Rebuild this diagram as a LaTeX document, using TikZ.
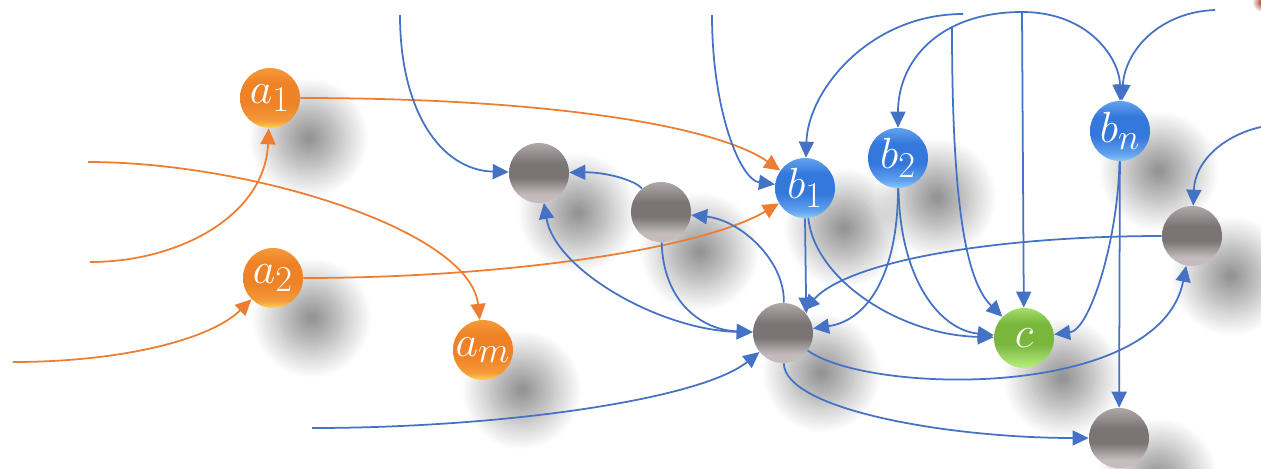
\documentclass[tikz,border=0pt]{standalone}
\usetikzlibrary{arrows.meta,shadows.blur}

\definecolor{lineblue}{HTML}{4472C4}
\definecolor{lineorange}{HTML}{ED7D31}
\definecolor{orgtop}{HTML}{F49A3A}
\definecolor{orgmid}{HTML}{EF8226}
\definecolor{orgbot}{HTML}{FFD54A}
\definecolor{blutop}{HTML}{62A2EE}
\definecolor{blumid}{HTML}{3578DC}
\definecolor{blubot}{HTML}{8CCBF8}
\definecolor{grntop}{HTML}{A6DE6C}
\definecolor{grnmid}{HTML}{78B63C}
\definecolor{grnbot}{HTML}{B8F27C}
\definecolor{grytop}{HTML}{B0A8A8}
\definecolor{grymid}{HTML}{7A7474}
\definecolor{grybot}{HTML}{C4BCBC}
\definecolor{cornerred}{HTML}{A0301A}

\pgfdeclareverticalshading{orangeball}{100bp}{color(0bp)=(orgbot); color(25bp)=(orgbot); color(31bp)=(orgtop); color(45bp)=(orgmid); color(62bp)=(orgmid); color(75bp)=(orgtop); color(100bp)=(orgtop)}
\pgfdeclareverticalshading{blueball}{100bp}{color(0bp)=(blubot); color(25bp)=(blubot); color(31bp)=(blutop); color(45bp)=(blumid); color(62bp)=(blumid); color(75bp)=(blutop); color(100bp)=(blutop)}
\pgfdeclareverticalshading{greenball}{100bp}{color(0bp)=(grnbot); color(25bp)=(grnbot); color(31bp)=(grntop); color(45bp)=(grnmid); color(62bp)=(grnmid); color(75bp)=(grntop); color(100bp)=(grntop)}
\pgfdeclareverticalshading{grayball}{100bp}{color(0bp)=(grybot); color(25bp)=(grybot); color(32bp)=(grybot); color(46bp)=(grymid); color(58bp)=(grymid); color(75bp)=(grytop); color(100bp)=(grytop)}

\tikzset{
  ball/.style={circle, minimum size=1.2cm, inner sep=0pt, text=white,
    font=\fontsize{28}{30}\selectfont,
    blur shadow={shadow xshift=0.74cm, shadow yshift=-0.76cm,
      shadow blur radius=0.55cm, shadow blur steps=30,
      shadow opacity=42, shadow scale=1.05}},
  aball/.style={ball, shading=orangeball},
  bball/.style={ball, shading=blueball},
  cball/.style={ball, shading=greenball},
  gball/.style={ball, shading=grayball},
  bflow/.style={draw=lineblue, line width=1pt,
    -{Triangle[length=0.32cm,width=0.3cm]}},
  bboth/.style={bflow, {Triangle[length=0.32cm,width=0.3cm]}-{Triangle[length=0.32cm,width=0.3cm]}},
  oflow/.style={bflow, draw=lineorange},
}

\begin{document}
\begin{tikzpicture}[x=0.02cm, y=-0.02cm]
  \useasboundingbox (0,0) rectangle (1261,468);

  % corner blob (cut off)
  \shade[inner color=cornerred, outer color=white] (1262,2) circle (10);

  % --- balls ---
  \node[aball] (a1) at (270,98) {$a_1$};
  \node[aball] (a2) at (273,278) {$a_2$};
  \node[aball] (am) at (483,350) {$a_m$};
  \node[gball] (g1) at (539,173) {};
  \node[gball] (g2) at (661,212) {};
  \node[gball] (g3) at (783,333) {};
  \node[bball] (b1) at (805,188) {$b_1$};
  \node[bball] (b2) at (898,158) {$b_2$};
  \node[bball] (bn) at (1120,131) {$b_n$};
  \node[cball] (c) at (1024,338) {$c$};
  \node[gball] (g4) at (1192,236) {};
  \node[gball] (g5) at (1119,438) {};

  % --- loose ends ---
  \coordinate (inam) at (88,162);
  \coordinate (ina1) at (90,262);
  \coordinate (ina2) at (13,362);
  \coordinate (ing1) at (400,15);
  \coordinate (ing3) at (312,428);
  \coordinate (inb1l) at (712,15);
  \coordinate (inb1t) at (963,14);
  \coordinate (inc) at (952,27);
  \coordinate (top) at (1022,12);
  \coordinate (inbn) at (1215,10);
  \coordinate (ing4) at (1261,127);

  % --- orange ---
  \draw[oflow] (a1) .. controls (560,98) and (720,128) .. (b1);
  \draw[oflow] (a2) .. controls (500,278) and (700,250) .. (b1);
  \draw[oflow] (inam) .. controls (250,162) and (470,230) .. (am);
  \draw[oflow] (ina1) .. controls (180,262) and (265,215) .. (a1);
  \draw[oflow] (ina2) .. controls (120,362) and (210,340) .. (a2);

  % --- blue, left part ---
  \draw[bflow] (ing1) .. controls (400,110) and (440,170) .. (g1);
  \draw[bflow] (g2) .. controls (635,180) and (605,172) .. (g1);
  \draw[bboth] (g1) .. controls (555,270) and (660,330) .. (g3);
  \draw[bflow] (g2) .. controls (663,300) and (700,330) .. (g3);
  \draw[bflow] (g3) .. controls (785,260) and (740,220) .. (g2);
  \draw[bflow] (ing3) .. controls (500,428) and (700,400) .. (g3);

  % --- into b1, b2, bn ---
  \draw[bflow] (inb1l) .. controls (712,110) and (740,180) .. (b1);
  \draw[bflow] (inb1t) .. controls (870,14) and (808,90) .. (b1);
  \draw[bflow] (top) .. controls (940,12) and (898,60) .. (b2);
  \draw[bflow] (top) .. controls (1090,12) and (1120,60) .. (bn);
  \draw[bflow] (inbn) .. controls (1160,12) and (1125,50) .. (bn);

  % --- into g3 ---
  \draw[bflow] (b1.south) -- (g3.40);
  \draw[bflow] (b2) .. controls (898,270) and (870,320) .. (g3);
  \draw[bflow] (g4) .. controls (1000,236) and (850,260) .. (g3);

  % --- into c ---
  \draw[bflow] (b1) .. controls (815,280) and (900,335) .. (c);
  \draw[bflow] (b2) .. controls (900,280) and (940,330) .. (c);
  \draw[bflow] (inc) .. controls (952,200) and (965,280) .. (c);
  \draw[bflow] (top) -- (c);
  \draw[bflow] (bn) .. controls (1118,240) and (1090,330) .. (c);

  % --- right side ---
  \draw[bflow] (g3) .. controls (870,395) and (1160,400) .. (g4);
  \draw[bflow] (g3) .. controls (785,410) and (950,438) .. (g5);
  \draw[bflow] (bn) -- (g5);
  \draw[bflow] (ing4) .. controls (1225,135) and (1195,160) .. (g4);

\end{tikzpicture}
\end{document}
